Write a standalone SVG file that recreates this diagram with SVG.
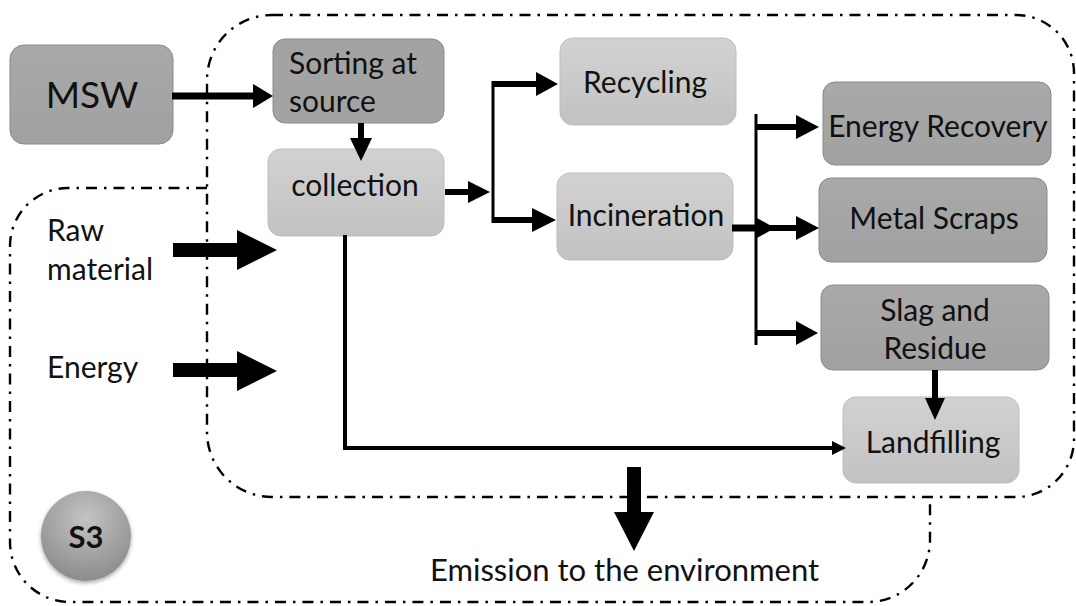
<svg xmlns="http://www.w3.org/2000/svg" width="1076" height="606" viewBox="0 0 1076 606">
  <defs>
    <linearGradient id="gLight" x1="0" y1="0" x2="0" y2="1">
      <stop offset="0" stop-color="#d2d2d2"/>
      <stop offset="1" stop-color="#c2c2c2"/>
    </linearGradient>
    <linearGradient id="gDark" x1="0" y1="0" x2="0" y2="1">
      <stop offset="0" stop-color="#a9a9a9"/>
      <stop offset="1" stop-color="#a1a1a1"/>
    </linearGradient>
    <radialGradient id="gBall" cx="0.5" cy="0.3" r="0.7">
      <stop offset="0" stop-color="#c4c4c4"/>
      <stop offset="1" stop-color="#8c8c8c"/>
    </radialGradient>
    <filter id="soft" x="-20%" y="-20%" width="140%" height="140%">
      <feGaussianBlur in="SourceAlpha" stdDeviation="2"/>
      <feOffset dx="0" dy="2" result="b"/>
      <feComponentTransfer><feFuncA type="linear" slope="0.35"/></feComponentTransfer>
      <feMerge><feMergeNode/><feMergeNode in="SourceGraphic"/></feMerge>
    </filter>
  </defs>
  <style>
    text { font-family: Lato, "Open Sans", "Liberation Sans", sans-serif; font-size: 30px; fill: #111; }
    .c { text-anchor: middle; }
    .light { fill: url(#gLight); stroke: #bdbdbd; stroke-width: 1; }
    .dark { fill: url(#gDark); stroke: #8a8a8a; stroke-width: 1; }
    .bound { fill: none; stroke: #000; stroke-width: 2.4; stroke-dasharray: 11 7 2.5 7; }
    .shaft { stroke: #000; fill: none; stroke-linecap: butt; }
    .head { fill: #000; }
  </style>

  <!-- system boundaries (dash-dot outlines) -->
  <g id="boundaries">
    <path class="bound" d="M 272,15 H 1016 A 58 58 0 0 1 1074 73 V 439 A 58 58 0 0 1 1016 497 H 272 A 65 65 0 0 1 207 432 V 80 A 65 65 0 0 1 272,15 Z"/>
    <path class="bound" d="M 207,188 H 68 A 58 58 0 0 0 10 246 V 542 A 60 60 0 0 0 70 602 H 868 A 62 62 0 0 0 930 540 V 497"/>
  </g>

  <g id="msw">
    <rect class="dark" x="10" y="45" width="163" height="99" rx="14"/>
    <text class="c" x="92" y="108" style="font-size:37px">MSW</text>
  </g>
  <g id="sorting">
    <rect class="dark" x="273" y="39" width="171" height="84" rx="12" style="fill:#a3a3a3"/>
    <text x="289" y="74">Sorting at</text>
    <text x="289" y="112">source</text>
  </g>
  <g id="collection">
    <rect class="light" x="268" y="149" width="176" height="87" rx="13"/>
    <text class="c" x="355" y="196">collection</text>
  </g>
  <g id="recycling">
    <rect class="light" x="560" y="38" width="176" height="87" rx="13"/>
    <text class="c" x="645" y="93">Recycling</text>
  </g>
  <g id="incineration">
    <rect class="light" x="557" y="173" width="176" height="87" rx="13"/>
    <text class="c" x="646" y="226">Incineration</text>
  </g>
  <g id="energy-recovery">
    <rect class="dark" x="823" y="82" width="228" height="83" rx="12"/>
    <text class="c" x="938" y="137">Energy Recovery</text>
  </g>
  <g id="metal-scraps">
    <rect class="dark" x="819" y="178" width="228" height="84" rx="12"/>
    <text class="c" x="934" y="229">Metal Scraps</text>
  </g>
  <g id="slag-residue">
    <rect class="dark" x="821" y="285" width="228" height="85" rx="12"/>
    <text class="c" x="935" y="321">Slag and</text>
    <text class="c" x="935" y="359">Residue</text>
  </g>
  <g id="landfilling">
    <rect class="light" x="843" y="397" width="176" height="86" rx="13"/>
    <text class="c" x="933" y="453">Landfilling</text>
  </g>

  <g id="inputs">
    <text x="47" y="241">Raw</text>
    <text x="47" y="280">material</text>
    <text x="47" y="378">Energy</text>
  </g>
  <g id="emission">
    <text x="430" y="581" style="font-size:31px">Emission to the environment</text>
  </g>
  <g id="s3">
    <circle cx="86" cy="536" r="45" fill="url(#gBall)" filter="url(#soft)"/>
    <text class="c" x="86" y="548" style="font-weight:bold;font-size:31px">S3</text>
  </g>

  <!-- connectors, drawn over the boxes -->
  <g id="connectors">
    <!-- MSW to sorting -->
    <line class="shaft" x1="172" y1="96" x2="255" y2="96" stroke-width="7"/>
    <polygon class="head" points="253,84 273,96 253,108"/>
    <!-- sorting to collection -->
    <line class="shaft" x1="361" y1="123" x2="361" y2="140" stroke-width="6"/>
    <polygon class="head" points="350,138 361,161 372,138"/>
    <!-- collection to branch -->
    <line class="shaft" x1="445" y1="192" x2="470" y2="192" stroke-width="6"/>
    <polygon class="head" points="468,181 490,192 468,203"/>
    <line class="shaft" x1="493" y1="81" x2="493" y2="223" stroke-width="3"/>
    <line class="shaft" x1="492" y1="84" x2="538" y2="84" stroke-width="6"/>
    <polygon class="head" points="536,72 558,84 536,96"/>
    <line class="shaft" x1="492" y1="220" x2="534" y2="220" stroke-width="6"/>
    <polygon class="head" points="532,208 556,220 532,232"/>
    <!-- incineration outputs -->
    <line class="shaft" x1="732" y1="228" x2="760" y2="228" stroke-width="7"/>
    <polygon class="head" points="757,218 775,228 757,238"/>
    <line class="shaft" x1="756" y1="114" x2="756" y2="345" stroke-width="3"/>
    <line class="shaft" x1="755" y1="127" x2="798" y2="127" stroke-width="6"/>
    <polygon class="head" points="796,115 819,127 796,139"/>
    <line class="shaft" x1="755" y1="228" x2="798" y2="228" stroke-width="6"/>
    <polygon class="head" points="796,216 819,228 796,240"/>
    <line class="shaft" x1="755" y1="333" x2="798" y2="333" stroke-width="6"/>
    <polygon class="head" points="796,321 818,333 796,345"/>
    <!-- slag to landfilling -->
    <line class="shaft" x1="935" y1="370" x2="935" y2="400" stroke-width="6"/>
    <polygon class="head" points="925,398 935,420 945,398"/>
    <!-- collection direct to landfilling -->
    <polyline class="shaft" points="345,235 345,448 834,448" stroke-width="4"/>
    <polygon class="head" points="832,441 846,448 832,455"/>
    <!-- raw material and energy inputs -->
    <polygon class="head" points="173,243 237,243 237,230 277,250 237,270 237,257 173,257"/>
    <polygon class="head" points="173,363 237,363 237,351 277,371 237,391 237,377 173,377"/>
    <!-- emissions -->
    <polygon class="head" points="627,467 641,467 641,512 654,512 634,551 614,512 627,512"/>
  </g>
</svg>
